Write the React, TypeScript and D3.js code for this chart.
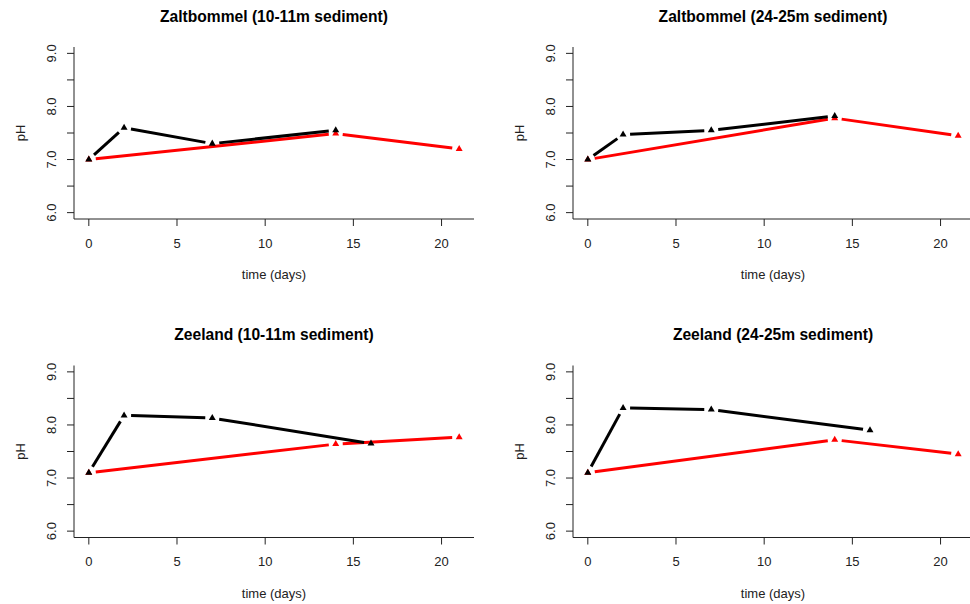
import React from "react";
import * as d3 from "d3";

// pH over time for four sediment incubations, two treatments each
const panelTitles = [
  "Zaltbommel (10-11m sediment)",
  "Zaltbommel (24-25m sediment)",
  "Zeeland (10-11m sediment)",
  "Zeeland (24-25m sediment)",
];

const blackDays = [
  [0, 2, 7, 14],
  [0, 2, 7, 14],
  [0, 2, 7, 16],
  [0, 2, 7, 16],
];
const blackPH = [
  [7.0, 7.6, 7.3, 7.55],
  [7.0, 7.47, 7.55, 7.82],
  [7.1, 8.18, 8.13, 7.65],
  [7.1, 8.32, 8.29, 7.9],
];

const redDays = [
  [0, 14, 21],
  [0, 14, 21],
  [0, 14, 21],
  [0, 14, 21],
];
const redPH = [
  [7.0, 7.49, 7.2],
  [7.0, 7.78, 7.45],
  [7.1, 7.64, 7.77],
  [7.1, 7.72, 7.45],
];

const xTicks = [0, 5, 10, 15, 20];
const yTicks = [6, 6.5, 7, 7.5, 8, 8.5, 9];
const yLabelled = [6, 7, 8, 9];

const xLabel = "time (days)";
const yLabel = "pH";

const FONT = "'Liberation Sans', Arial, Helvetica, sans-serif";
const AXIS = "#222";

const colOffsets = [0, 499];
const rowOffsets = [0, 318.5];

const plotLeft = 74;
const plotRight = 474;
const plotTop = 47;
const plotBottom = 219;

const x = d3.scaleLinear().domain([-0.84, 21.84]).range([plotLeft, plotRight]);
const y = d3.scaleLinear().domain([5.88, 9.12]).range([plotBottom, plotTop]);

const GAP = 7;
const triangle = d3.symbol().type(d3.symbolTriangle).size(21)();

// Line segments with gaps around each point (points-and-lines style)
function gappedSegments(days: number[], vals: number[]) {
  const segs: { x1: number; y1: number; x2: number; y2: number }[] = [];
  for (let i = 0; i < days.length - 1; i++) {
    const ax = x(days[i]), ay = y(vals[i]);
    const bx = x(days[i + 1]), by = y(vals[i + 1]);
    const dx = bx - ax, dy = by - ay;
    const len = Math.hypot(dx, dy);
    if (len <= 2 * GAP) continue;
    const ux = dx / len, uy = dy / len;
    segs.push({
      x1: ax + ux * GAP,
      y1: ay + uy * GAP,
      x2: bx - ux * GAP,
      y2: by - uy * GAP,
    });
  }
  return segs;
}

function Series({ days, vals, color }: { days: number[]; vals: number[]; color: string }) {
  const segs = gappedSegments(days, vals);
  return (
    <g>
      {segs.map((s, i) => (
        <line key={i} x1={s.x1} y1={s.y1} x2={s.x2} y2={s.y2} stroke={color} strokeWidth={3} strokeLinecap="butt" />
      ))}
      {days.map((d, i) => (
        <path key={"p" + i} d={triangle || ""} transform={`translate(${x(d)},${y(vals[i])})`} fill={color} />
      ))}
    </g>
  );
}

function Panel({ idx }: { idx: number }) {
  const ox = colOffsets[idx % 2];
  const oy = rowOffsets[Math.floor(idx / 2)];
  const cx = (plotLeft + plotRight) / 2;
  const cy = (plotTop + plotBottom) / 2;
  return (
    <g transform={`translate(${ox},${oy})`}>
      <text x={cx} y={21.5} textAnchor="middle" fontFamily={FONT} fontWeight="bold" fontSize={15.6} fill="#000">
        {panelTitles[idx]}
      </text>
      {/* L-shaped box */}
      <path
        d={`M${plotLeft},${plotTop}V${plotBottom}H${plotRight}`}
        fill="none"
        stroke={AXIS}
        strokeWidth={1}
      />
      {/* x axis */}
      {xTicks.map((t) => (
        <g key={"x" + t}>
          <line x1={x(t)} x2={x(t)} y1={plotBottom} y2={plotBottom + 7} stroke={AXIS} />
          <text x={x(t)} y={247.5} textAnchor="middle" fontFamily={FONT} fontSize={13} fill="#222">
            {t}
          </text>
        </g>
      ))}
      {/* y axis */}
      {yTicks.map((t) => (
        <g key={"y" + t}>
          <line x1={plotLeft - 7} x2={plotLeft} y1={y(t)} y2={y(t)} stroke={AXIS} />
          {yLabelled.includes(t) && (
            <text
              transform={`translate(55.5,${y(t)}) rotate(-90)`}
              textAnchor="middle"
              fontFamily={FONT}
              fontSize={13}
              fill="#222"
            >
              {t.toFixed(1)}
            </text>
          )}
        </g>
      ))}
      <text x={cx} y={279} textAnchor="middle" fontFamily={FONT} fontSize={13} fill="#222">
        {xLabel}
      </text>
      <text transform={`translate(24.5,${cy}) rotate(-90)`} textAnchor="middle" fontFamily={FONT} fontSize={13} fill="#222">
        {yLabel}
      </text>
      <Series days={redDays[idx]} vals={redPH[idx]} color="#ff0000" />
      <Series days={blackDays[idx]} vals={blackPH[idx]} color="#000000" />
    </g>
  );
}

export default function App() {
  return (
    <svg
      width={970}
      height={604}
      style={{ position: "absolute", left: 0, top: 0, background: "#fff" }}
    >
      <rect width={970} height={604} fill="#fff" />
      {panelTitles.map((_, i) => (
        <Panel key={i} idx={i} />
      ))}
    </svg>
  );
}
